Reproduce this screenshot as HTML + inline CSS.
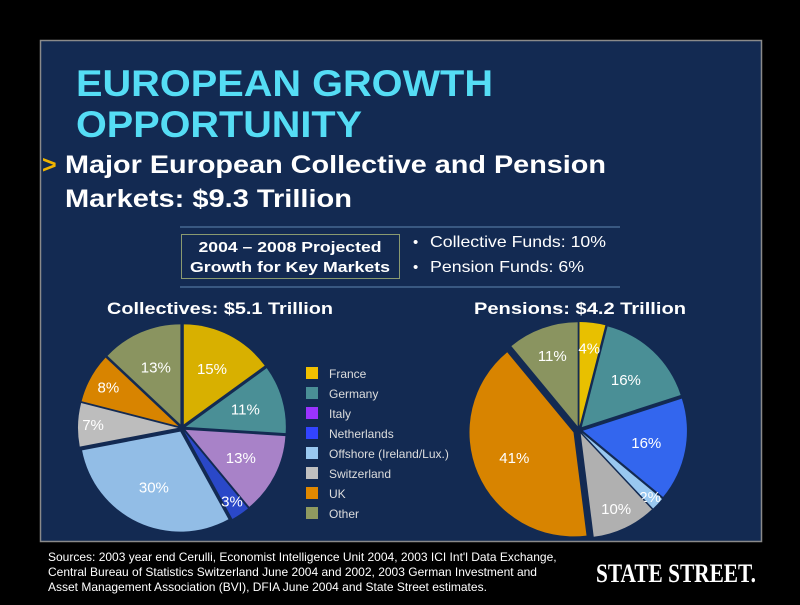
<!DOCTYPE html>
<html><head><meta charset="utf-8"><style>
body{margin:0;background:#000;width:800px;height:600px;overflow:hidden;font-family:"Liberation Sans",sans-serif}
</style></head><body>
<svg id="s" width="800" height="600" xmlns="http://www.w3.org/2000/svg" font-family="Liberation Sans, sans-serif">
<rect x="0" y="0" width="800" height="600" fill="#000"/>
<rect x="40.5" y="40.5" width="721" height="501" fill="#132a52" stroke="#8a8a8a" stroke-width="1.5"/>
<text x="76" y="96" fill="#55ddf5" font-size="37" font-weight="bold" textLength="417" lengthAdjust="spacingAndGlyphs">EUROPEAN GROWTH</text>
<text x="76" y="137" fill="#55ddf5" font-size="37" font-weight="bold" textLength="286" lengthAdjust="spacingAndGlyphs">OPPORTUNITY</text>
<text x="42" y="173" fill="#f0b400" font-size="25" font-weight="bold">&gt;</text>
<text x="65" y="173" fill="#fff" font-size="25" font-weight="bold" textLength="541" lengthAdjust="spacingAndGlyphs">Major European Collective and Pension</text>
<text x="65" y="207" fill="#fff" font-size="25" font-weight="bold" textLength="287" lengthAdjust="spacingAndGlyphs">Markets: $9.3 Trillion</text>
<line x1="180" y1="227" x2="620" y2="227" stroke="#5f87b0" stroke-width="1"/>
<line x1="180" y1="287" x2="620" y2="287" stroke="#5f87b0" stroke-width="1"/>
<rect x="181.5" y="234.5" width="218" height="44" fill="none" stroke="#8a9a70" stroke-width="1"/>
<text x="290" y="252" fill="#fff" font-size="15" font-weight="bold" text-anchor="middle" textLength="183" lengthAdjust="spacingAndGlyphs">2004 – 2008 Projected</text>
<text x="290" y="272" fill="#fff" font-size="15" font-weight="bold" text-anchor="middle" textLength="200" lengthAdjust="spacingAndGlyphs">Growth for Key Markets</text>
<text x="413" y="247" fill="#fff" font-size="15">•</text>
<text x="430" y="247" fill="#fff" font-size="16" textLength="176" lengthAdjust="spacingAndGlyphs">Collective Funds: 10%</text>
<text x="413" y="272" fill="#fff" font-size="15">•</text>
<text x="430" y="272" fill="#fff" font-size="16" textLength="154" lengthAdjust="spacingAndGlyphs">Pension Funds: 6%</text>
<text x="107" y="314" fill="#fff" font-size="17" font-weight="bold" textLength="226" lengthAdjust="spacingAndGlyphs">Collectives: $5.1 Trillion</text>
<text x="474" y="314" fill="#fff" font-size="17" font-weight="bold" textLength="212" lengthAdjust="spacingAndGlyphs">Pensions: $4.2 Trillion</text>
<g id="p1"></g><g id="p2"></g>
<g font-size="12" fill="#ddd">
<rect x="306" y="367" width="12" height="12" fill="#f0c000"/><text x="329" y="378">France</text>
<rect x="306" y="387" width="12" height="12" fill="#4a8f96"/><text x="329" y="398">Germany</text>
<rect x="306" y="407" width="12" height="12" fill="#9a33ff"/><text x="329" y="418">Italy</text>
<rect x="306" y="427" width="12" height="12" fill="#3344ff"/><text x="329" y="438">Netherlands</text>
<rect x="306" y="447" width="12" height="12" fill="#99c8f0"/><text x="329" y="458">Offshore (Ireland/Lux.)</text>
<rect x="306" y="467" width="12" height="12" fill="#c0c0c0"/><text x="329" y="478">Switzerland</text>
<rect x="306" y="487" width="12" height="12" fill="#e08800"/><text x="329" y="498">UK</text>
<rect x="306" y="507" width="12" height="12" fill="#8f9a60"/><text x="329" y="518">Other</text>
</g>
<g font-size="12" fill="#fff">
<text x="48" y="561">Sources: 2003 year end Cerulli, Economist Intelligence Unit 2004, 2003 ICI Int'l Data Exchange,</text>
<text x="48" y="576">Central Bureau of Statistics Switzerland June 2004 and 2002, 2003 German Investment and</text>
<text x="48" y="591">Asset Management Association (BVI), DFIA June 2004 and State Street estimates.</text>
</g>
<text x="596" y="582" fill="#fff" font-family="Liberation Serif, serif" font-size="26" font-weight="bold" textLength="160" lengthAdjust="spacingAndGlyphs">STATE STREET.</text>
</svg>
<script>
function pie(id,cx,cy,r,data){
 var g=document.getElementById(id),a=0,h='';
 data.forEach(function(d){
  var a0=a,a1=a+d[0]/100*2*Math.PI;a=a1;var m=(a0+a1)/2;
  var e=d[4]||4;
  var ox=cx+e*Math.sin(m),oy=cy-e*Math.cos(m);
  var x0=ox+r*Math.sin(a0),y0=oy-r*Math.cos(a0),x1=ox+r*Math.sin(a1),y1=oy-r*Math.cos(a1);
  var lg=(a1-a0)>Math.PI?1:0;
  h+='<path d="M'+ox+','+oy+' L'+x0+','+y0+' A'+r+','+r+' 0 '+lg+' 1 '+x1+','+y1+' Z" fill="'+d[1]+'"/>';
  var lr=d[3]||0.62;
  h+='<text x="'+(ox+lr*r*Math.sin(m))+'" y="'+(oy-lr*r*Math.cos(m)+5)+'" fill="#fff" font-size="15" text-anchor="middle">'+d[2]+'</text>';
 });
 g.innerHTML=h;
}
pie('p1',182,428,100,[[15,'#d8b000','15%'],[11,'#4a8f96','11%'],[13,'#a882c8','13%'],[3,'#2a48c8','3%',0.85],[30,'#92bde6','30%'],[7,'#bdbdbd','7%',0.85],[8,'#d88400','8%',0.8],[13,'#8a9460','13%']]);
pie('p2',579,430,104,[[4,'#e8c000','4%',0.75],[16,'#4a8f96','16%'],[16,'#3366ee','16%'],[2,'#99c8f0','2%',0.9],[10,'#b0b0b0','10%',0.8],[41,'#d88400','41%',0.62,6],[11,'#8a9460','11%',0.72]]);
</script>
</body></html>
